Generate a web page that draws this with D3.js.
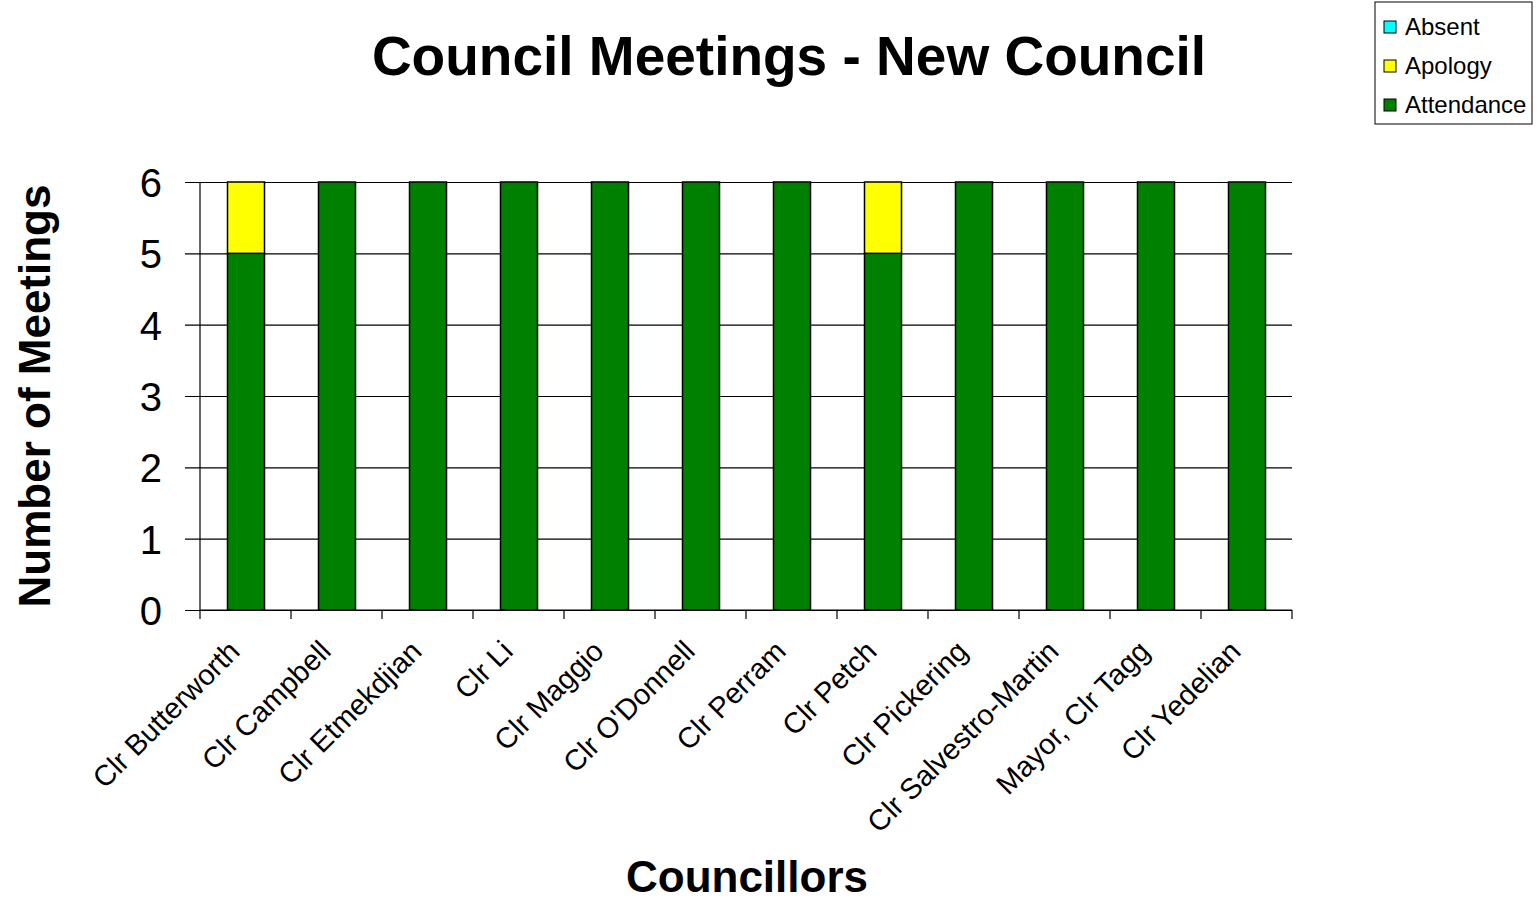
<!DOCTYPE html>
<html>
<head>
<meta charset="utf-8">
<script src="https://cdn.jsdelivr.net/npm/d3@7/dist/d3.min.js"></script>
<style>
  body { margin: 0; background: #fff; }
  text { font-family: Arial, "Liberation Sans", sans-serif; }
</style>
</head>
<body>
<div id="chart"></div>
<script>
// data
var councillors = ["Clr Butterworth", "Clr Campbell", "Clr Etmekdjian", "Clr Li", "Clr Maggio",
  "Clr O'Donnell", "Clr Perram", "Clr Petch", "Clr Pickering", "Clr Salvestro-Martin",
  "Mayor, Clr Tagg", "Clr Yedelian"];
var attendance = [5, 6, 6, 6, 6, 6, 6, 5, 6, 6, 6, 6];
var apology    = [1, 0, 0, 0, 0, 0, 0, 1, 0, 0, 0, 0];
var absent     = [0, 0, 0, 0, 0, 0, 0, 0, 0, 0, 0, 0];
var seriesNames = ["Attendance", "Apology", "Absent"];
var seriesColors = ["#008000", "#ffff00", "#00ffff"];
var yTicks = [0, 1, 2, 3, 4, 5, 6];

var width = 1540, height = 902;
var plotL = 200, plotR = 1292, plotT = 182, plotB = 610;

var rows = councillors.map(function (c, i) {
  return { name: c, Attendance: attendance[i], Apology: apology[i], Absent: absent[i] };
});
var stacked = d3.stack().keys(seriesNames)(rows);

var svg = d3.select("#chart").append("svg")
  .attr("width", width).attr("height", height);

var x = d3.scaleBand().domain(councillors).range([plotL, plotR]);
var y = d3.scaleLinear().domain([0, 6]).range([plotB, plotT]);
var color = d3.scaleOrdinal().domain(seriesNames).range(seriesColors);

// gridlines + y axis
svg.append("g")
  .attr("transform", "translate(" + plotL + ",0)")
  .call(d3.axisLeft(y).tickValues(yTicks).tickFormat(d3.format("d"))
    .tickSize(-(plotR - plotL)).tickSizeOuter(0).tickPadding(38))
  .call(function (g) {
    g.select(".domain").remove();
    g.selectAll(".tick line").attr("stroke", "#000").attr("stroke-width", 1.2).attr("x1", -15);
    g.selectAll(".tick text").attr("font-size", 40).attr("fill", "#000")
      .attr("font-family", "Arial, 'Liberation Sans', sans-serif").attr("dy", "0.36em");
  });
svg.append("line").attr("x1", plotL).attr("x2", plotL).attr("y1", plotT).attr("y2", plotB)
  .attr("stroke", "#000").attr("stroke-width", 1.2);

// bars
var barW = 37;
svg.append("g").selectAll("g").data(stacked).join("g")
  .attr("fill", function (d) { return color(d.key); })
  .selectAll("rect").data(function (d) { return d.filter(function (v) { return v[1] - v[0] > 0; }); }).join("rect")
  .attr("x", function (d) { return x(d.data.name) + x.bandwidth() / 2 - barW / 2 + 0.5; })
  .attr("y", function (d) { return y(d[1]); })
  .attr("width", barW)
  .attr("height", function (d) { return y(d[0]) - y(d[1]); })
  .attr("stroke", "#000").attr("stroke-width", 1.5);

// x axis
var xAxis = svg.append("g").attr("transform", "translate(0," + plotB + ")");
xAxis.append("line").attr("x1", plotL).attr("x2", plotR).attr("stroke", "#000").attr("stroke-width", 1.2);
var boundaries = councillors.map(function (c) { return x(c); }).concat([plotR]);
xAxis.selectAll("line.tk").data(boundaries).join("line").attr("class", "tk")
  .attr("x1", function (d) { return d; }).attr("x2", function (d) { return d; })
  .attr("y1", 0).attr("y2", 9).attr("stroke", "#000").attr("stroke-width", 1.2);
xAxis.selectAll("text").data(councillors).join("text")
  .attr("transform", function (d) {
    return "translate(" + (x(d) + x.bandwidth() / 2 - 4) + ",43) rotate(-45)";
  })
  .attr("text-anchor", "end")
  .attr("font-size", 29)
  .attr("fill", "#000")
  .text(function (d) { return d; });

// titles
svg.append("text").attr("x", 789).attr("y", 75).attr("text-anchor", "middle")
  .attr("font-size", 55).attr("font-weight", "bold").text("Council Meetings - New Council");
svg.append("text").attr("transform", "translate(50,396) rotate(-90)").attr("text-anchor", "middle")
  .attr("font-size", 44).attr("font-weight", "bold").text("Number of Meetings");
svg.append("text").attr("x", 747).attr("y", 892).attr("text-anchor", "middle")
  .attr("font-size", 44).attr("font-weight", "bold").text("Councillors");

// legend
var legend = svg.append("g").attr("transform", "translate(1375,2)");
legend.append("rect").attr("width", 157).attr("height", 122)
  .attr("fill", "#fff").attr("stroke", "#000").attr("stroke-width", 1);
var legendItems = seriesNames.slice().reverse();
legend.selectAll("g.item").data(legendItems).join("g").attr("class", "item")
  .attr("transform", function (d, i) { return "translate(9," + (25 + i * 39) + ")"; })
  .each(function (d) {
    var g = d3.select(this);
    g.append("rect").attr("x", 0).attr("y", -6).attr("width", 12).attr("height", 12)
      .attr("fill", color(d)).attr("stroke", "#000").attr("stroke-width", 1);
    g.append("text").attr("x", 21).attr("y", 0).attr("dy", "0.35em")
      .attr("font-size", 24).attr("fill", "#000").text(d);
  });
</script>
</body>
</html>
